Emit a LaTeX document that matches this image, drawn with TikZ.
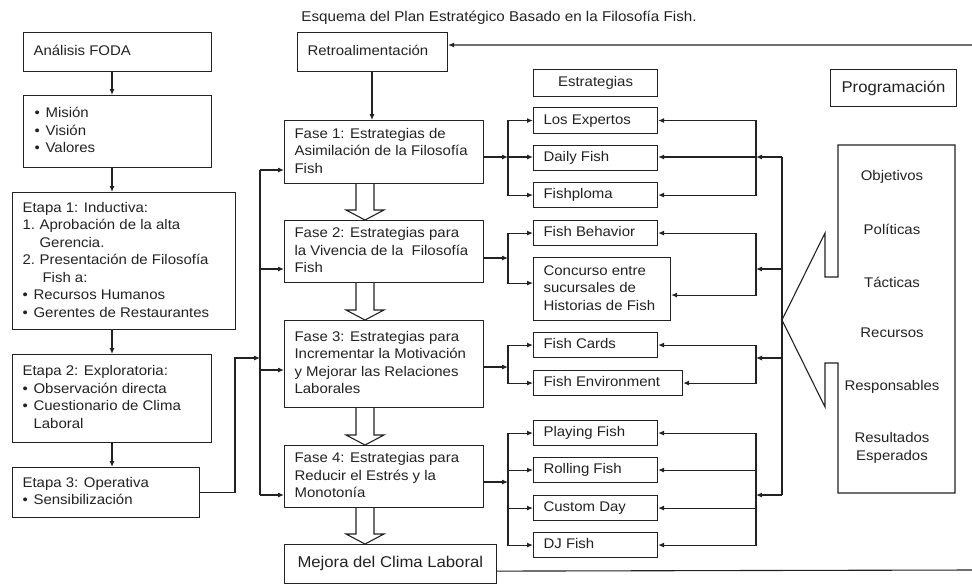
\documentclass[tikz,border=0pt]{standalone}
\usepackage{fontspec}
\setmainfont{Liberation Sans}[FakeStretch=1.07]
\usetikzlibrary{arrows.meta,calc}
\definecolor{ink}{HTML}{222222}
\newcommand\fz{\fontsize{14}{17.5}\selectfont}
\newcommand\fzb{\fontsize{15.6}{19}\selectfont}
\newcommand\fzt{\fontsize{14.2}{17}\selectfont}
\newcommand\bxt[2]{\makebox[#1][l]{\begin{tabular}{@{}l@{}}#2\end{tabular}}}
\newcommand\bul{\makebox[11pt][l]{•}}
\newcommand\blk[2]{\draw[ln,line join=miter] ($(#1.south -| bxc)+(-9,0)$) -- ($(#2.north -| bxc)+(-9,-10)$) -- ($(#2.north -| bxc)+(-19,-10)$) -- (#2.north -| bxc) -- ($(#2.north -| bxc)+(19,-10)$) -- ($(#2.north -| bxc)+(9,-10)$) -- ($(#1.south -| bxc)+(9,0)$);}
\begin{document}
\begin{tikzpicture}[x=1pt,y=-1pt,
  bx/.style={draw=ink, line width=1.1pt, anchor=north west, inner ysep=0pt, font=\fz, text=ink},
  ln/.style={draw=ink, line width=1.1pt},
  arr/.style={ln, -{Latex[length=6pt,width=5pt]}},
  lbl/.style={font=\fz, text=ink, inner sep=0pt}]
\useasboundingbox (0,0) rectangle (972,584);

% title
\node[lbl, font=\fzt] (title) at (499,18) {Esquema del Plan Estratégico Basado en la Filosofía Fish.};

% left column
\node[bx, inner xsep=10pt, minimum width=188, minimum height=39] (foda) at (23,32) {\bxt{168pt}{Análisis FODA}};
\node[bx, inner xsep=11pt, minimum width=188, minimum height=72] (mision) at (23,95) {\bxt{166pt}{\bul Misión\\ \bul Visión\\ \bul Valores}};
\node[bx, inner xsep=10pt, minimum width=223, minimum height=137] (etapa1) at (12,192) {\bxt{203pt}{Etapa 1: Inductiva:\\
\makebox[17pt][l]{1.}Aprobación de la alta\\
\hspace*{17pt}Gerencia.\\
\makebox[17pt][l]{2.}Presentación de Filosofía\\
\hspace*{20pt}Fish a:\\
\bul Recursos Humanos\\
\bul Gerentes de Restaurantes}};
\node[bx, inner xsep=10pt, minimum width=199, minimum height=88] (etapa2) at (12,354) {\bxt{179pt}{Etapa 2: Exploratoria:\\ \bul Observación directa\\ \bul Cuestionario de Clima\\ \hspace*{11pt}Laboral}};
\node[bx, inner xsep=10pt, minimum width=187, minimum height=50] (etapa3) at (12,467) {\bxt{167pt}{Etapa 3: Operativa\\ \bul Sensibilización}};

% middle column
\node[bx, inner xsep=10pt, minimum width=150, minimum height=39] (retro) at (297,32) {\bxt{130pt}{Retroalimentación}};
\node[bx, inner xsep=10pt, minimum width=199, minimum height=63] (f1) at (284,120) {\bxt{179pt}{Fase 1: Estrategias de\\ Asimilación de la Filosofía\\ Fish}};
\node[bx, inner xsep=10pt, minimum width=199, minimum height=62] (f2) at (284,220) {\bxt{179pt}{Fase 2: Estrategias para\\ la Vivencia de la \ Filosofía\\ Fish}};
\node[bx, inner xsep=10pt, minimum width=199, minimum height=87] (f3) at (284,320) {\bxt{179pt}{Fase 3: Estrategias para\\ Incrementar la Motivación\\ y Mejorar las Relaciones\\ Laborales}};
\node[bx, inner xsep=10pt, minimum width=199, minimum height=62] (f4) at (284,445) {\bxt{179pt}{Fase 4: Estrategias para\\ Reducir el Estrés y la\\ Monotonía}};
\node[bx, font=\fzb, inner xsep=13pt, minimum width=212, minimum height=39] (mejora) at (284,544) {\bxt{186pt}{Mejora del Clima Laboral}};

% strategies
\node[bx, minimum width=124, minimum height=27, inner xsep=0pt] (estr) at (533,69) {Estrategias};
\node[bx, font=\fzb, minimum width=126, minimum height=37, inner xsep=0pt] (prog) at (830,69) {Programación};
\node[bx, inner xsep=10pt, minimum width=124, minimum height=26] (s1) at (533,107) {\bxt{104pt}{Los Expertos}};
\node[bx, inner xsep=10pt, minimum width=124, minimum height=25] (s2) at (533,145) {\bxt{104pt}{Daily Fish}};
\node[bx, inner xsep=10pt, minimum width=124, minimum height=25] (s3) at (533,182) {\bxt{104pt}{Fishploma}};
\node[bx, inner xsep=10pt, minimum width=124, minimum height=25] (s4) at (533,220) {\bxt{104pt}{Fish Behavior}};
\node[bx, inner xsep=10pt, minimum width=137, minimum height=63] (s5) at (533,257) {\bxt{117pt}{Concurso entre\\ sucursales de\\ Historias de Fish}};
\node[bx, inner xsep=10pt, minimum width=124, minimum height=25] (s6) at (533,332) {\bxt{104pt}{Fish Cards}};
\node[bx, inner xsep=10pt, minimum width=149, minimum height=25] (s7) at (533,370) {\bxt{129pt}{Fish Environment}};
\node[bx, inner xsep=10pt, minimum width=124, minimum height=25] (s8) at (533,420) {\bxt{104pt}{Playing Fish}};
\node[bx, inner xsep=10pt, minimum width=124, minimum height=25] (s9) at (533,457) {\bxt{104pt}{Rolling Fish}};
\node[bx, inner xsep=10pt, minimum width=124, minimum height=25] (s10) at (533,495) {\bxt{104pt}{Custom Day}};
\node[bx, inner xsep=10pt, minimum width=124, minimum height=25] (s11) at (533,532) {\bxt{104pt}{DJ Fish}};

% programming callout
\draw[ln, line join=miter] (838,145) -- (955,145) -- (955,493) -- (838,493) -- (838,363) -- (825,363) -- (825,407) -- (782,320) -- (825,233) -- (825,277) -- (838,277) -- cycle;
\node[lbl] (p1) at (892,177) {Objetivos};
\node[lbl] (p2) at (892,229) {Políticas};
\node[lbl] (p3) at (892,282) {Tácticas};
\node[lbl] (p4) at (892,333) {Recursos};
\node[lbl] (p5) at (892,387) {Responsables};
\node[lbl, align=center] (p6) at (892,448) {Resultados\\ Esperados};

% left arrows
\coordinate (cx) at (112,0);
\draw[arr] (foda.south -| cx) -- (mision.north -| cx);
\draw[arr] (mision.south -| cx) -- (etapa1.north -| cx);
\draw[arr] (etapa1.south -| cx) -- (etapa2.north -| cx);
\draw[arr] (etapa2.south -| cx) -- (etapa3.north -| cx);

% etapa3 to bus
\coordinate (e3k) at (235,358);
\coordinate (b0) at (260,358);
\draw[arr] (etapa3.east) -| (e3k) -- (b0);

% bus to fases
\coordinate (bt) at (260,170);
\coordinate (b2) at (260,269);
\coordinate (b3) at (260,370);
\coordinate (bb) at (260,495);
\draw[ln] (bt) -- (bb);
\draw[arr] (bt) -- (bt -| f1.west);
\draw[arr] (b2) -- (b2 -| f2.west);
\draw[arr] (b3) -- (b3 -| f3.west);
\draw[arr] (bb) -- (bb -| f4.west);

% retro to f1
\coordinate (rx) at (372,0);
\draw[arr] (retro.south -| rx) -- (f1.north -| rx);

% block arrows
\coordinate (bxc) at (365,0);
\blk{f1}{f2}
\blk{f2}{f3}
\blk{f3}{f4}
\blk{f4}{mejora}

% fases to strategies
\coordinate (j1) at (508,157);
\draw[arr] (f1.east |- j1) -- (j1);
\draw[arr] (j1) |- (s1.west);
\draw[arr] (j1) -- (j1 -| s2.west);
\draw[arr] (j1) |- (s3.west);
\coordinate (j2) at (508,258);
\draw[arr] (f2.east |- j2) -- (j2);
\draw[arr] (j2) |- (s4.west);
\draw[arr] (j2) |- ($(s5.west)+(0,-6)$);
\coordinate (j3) at (508,367);
\draw[arr] (f3.east |- j3) -- (j3);
\draw[arr] (j3) |- (s6.west);
\draw[arr] (j3) |- (s7.west);
\coordinate (j4) at (508,482);
\draw[arr] (f4.east |- j4) -- (j4);
\draw[arr] (j4) |- (s8.west);
\draw[arr] (j4) |- (s9.west);
\draw[arr] (j4) |- (s10.west);
\draw[arr] (j4) |- (s11.west);

% programming bus to strategies
\coordinate (k1) at (756,157); \coordinate (m1) at (782,157);
\coordinate (k2) at (756,269); \coordinate (m2) at (782,269);
\coordinate (k3) at (756,358); \coordinate (m3) at (782,358);
\coordinate (k4) at (756,495); \coordinate (m4) at (782,495);
\draw[ln] (m1) -- (m4);
\draw[arr] (m1) -- (k1);
\draw[arr] (k1) |- (s1.east);
\draw[arr] (k1) -- (k1 -| s2.east);
\draw[arr] (k1) |- (s3.east);
\draw[arr] (m2) -- (k2);
\draw[arr] (k2) |- (s4.east);
\draw[arr] (k2) |- ($(s5.east)+(0,6)$);
\draw[arr] (m3) -- (k3);
\draw[arr] (k3) |- (s6.east);
\draw[arr] (k3) |- (s7.east);
\draw[arr] (m4) -- (k4);
\draw[arr] (k4) |- (s8.east);
\draw[arr] (k4) |- (s9.east);
\draw[arr] (k4) |- (s10.east);
\draw[arr] (k4) |- (s11.east);

% feedback loop
\coordinate (fbR) at (975,570);
\coordinate (fbT) at (975,45);
\draw[arr] ($(mejora.south east)+(0,-13)$) -- (fbR) -- (fbT) -- (retro.east |- fbT);
\end{tikzpicture}
\end{document}
